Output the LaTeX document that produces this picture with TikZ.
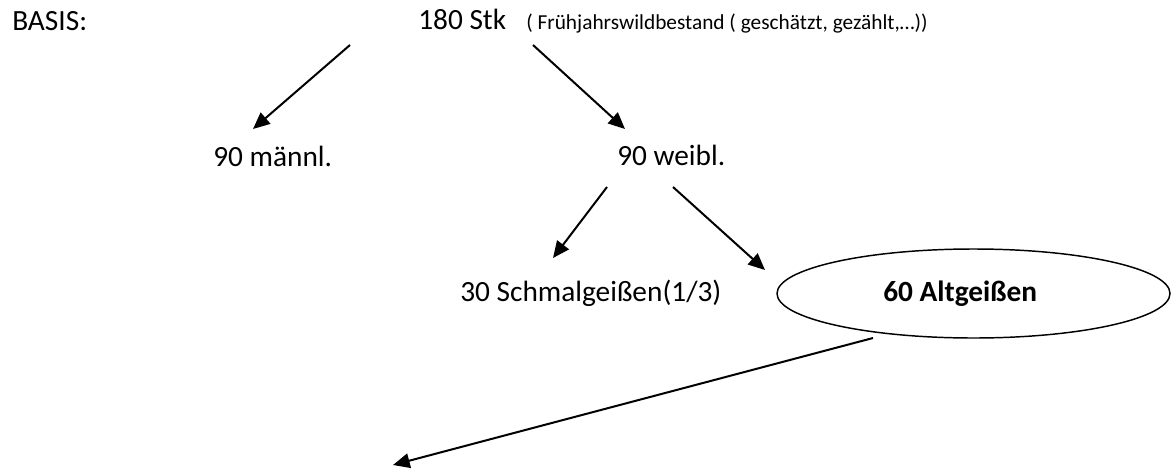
\documentclass[tikz,border=0pt]{standalone}
\usepackage{fontspec}
\setmainfont{Carlito}
\usetikzlibrary{arrows.meta,shapes.geometric}

\tikzset{
    pfeil/.style={-{Triangle[length=12.5pt,width=11pt]}, line width=1.5pt},
    txt/.style={anchor=base west, inner sep=0pt, font=\fontsize{22}{26}\selectfont},
    klein/.style={anchor=base west, inner sep=0pt, font=\fontsize{16}{19}\selectfont}
}

\begin{document}
\begin{tikzpicture}[x=0.75pt, y=-0.75pt]
        \useasboundingbox (0,0) rectangle (1176,471);
        % Texte
        \node[txt] (basis) at (12,30) {BASIS:};
        \node[txt] (stk) at (418,29) {180 Stk};
        \node[klein] (anm) at (526,29) {( Frühjahrswildbestand ( geschätzt, gezählt,…))};
        \node[txt] (maennl) at (213,166) {90 männl.};
        \node[txt] (weibl) at (617,165) {90 weibl.};
        \node[txt] (schmal) at (460,301) {30 Schmalgeißen(1/3)};
        \node[ellipse, draw, line width=1.1pt, inner sep=0pt, minimum width=294.75pt, minimum height=66.75pt,
              font=\fontsize{22}{26}\selectfont\bfseries] (alt) at (973.5,293.5) {60 Altgeißen\hspace*{20pt}};
        % Pfeilenden
        \coordinate (stk-l) at (350,45);
        \coordinate (stk-r) at (533,45);
        \coordinate (maennl-o) at (253,129);
        \coordinate (weibl-o) at (625,129);
        \coordinate (weibl-l) at (607,187);
        \coordinate (weibl-r) at (673,187);
        \coordinate (schmal-o) at (553,258);
        \coordinate (alt-l) at (765,270);
        \coordinate (alt-u) at (873,338);
        \coordinate (ende) at (393,465);
        % Pfeile
        \draw[pfeil] (stk-l) -- (maennl-o);
        \draw[pfeil] (stk-r) -- (weibl-o);
        \draw[pfeil] (weibl-l) -- (schmal-o);
        \draw[pfeil] (weibl-r) -- (alt-l);
        \draw[pfeil] (alt-u) -- (ende);
    \end{tikzpicture}
\end{document}
